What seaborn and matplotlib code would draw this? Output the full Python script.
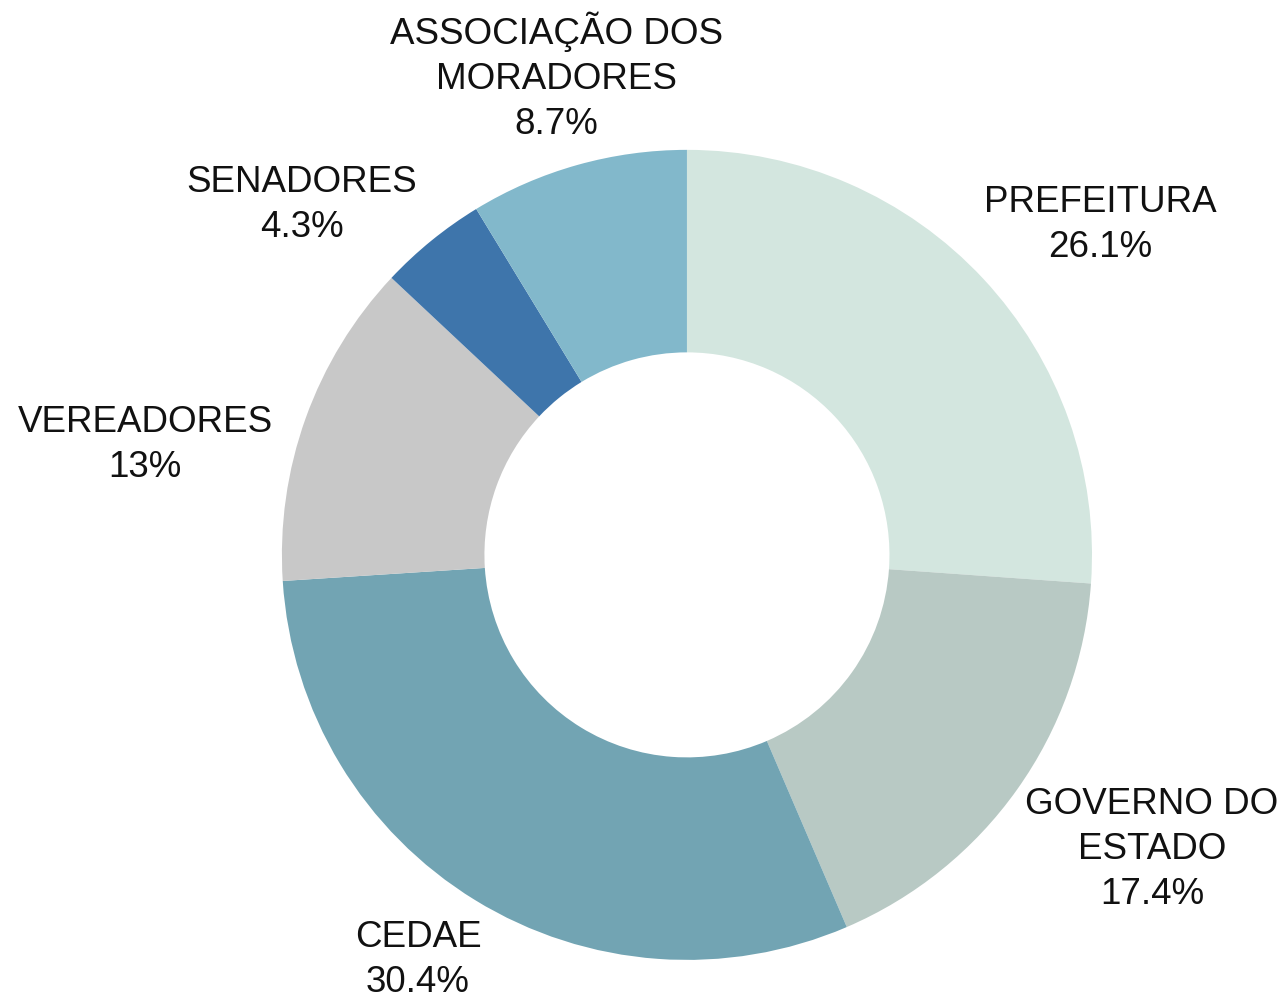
import matplotlib
matplotlib.use("Agg")
import matplotlib.pyplot as plt
import seaborn as sns

# Share of responses by institution
categories = ["PREFEITURA", "GOVERNO DO\nESTADO", "CEDAE", "VEREADORES", "SENADORES",
              "ASSOCIAÇÃO DOS\nMORADORES"]
shares = [26.1, 17.4, 30.4, 13.0, 4.3, 8.7]
share_labels = ["26.1%", "17.4%", "30.4%", "13%", "4.3%", "8.7%"]
colors = ["#d3e6df", "#b8c9c4", "#72a4b3", "#c8c8c8", "#3e75ab", "#82b8cb"]

# Label anchor points, in units of the outer radius
label_pos = [(1.02, 0.815), (1.148, -0.728), (-0.664, -1.0),
             (-1.338, 0.272), (-0.951, 0.864), (-0.323, 1.18)]

sns.set_theme(style="white")
plt.rcParams["font.family"] = ["Liberation Sans", "DejaVu Sans"]

fig = plt.figure(figsize=(12.86, 10), dpi=100)
ax = fig.add_axes([0, 0, 1, 1])

ax.pie(shares, colors=colors, startangle=90, counterclock=False, radius=1.0,
       wedgeprops=dict(width=0.50, edgecolor="none", linewidth=0))

for name, lab, (x, y) in zip(categories, share_labels, label_pos):
    ax.text(x, y, f"{name}\n{lab}", ha="center", va="center", fontsize=26.5,
            color="#111111", linespacing=1.38)

ax.set_xlim(-1.696, 1.479)
ax.set_ylim(-1.099, 1.370)
ax.set_aspect("auto")
ax.axis("off")

fig.savefig("out.png", dpi=100, facecolor="white")
